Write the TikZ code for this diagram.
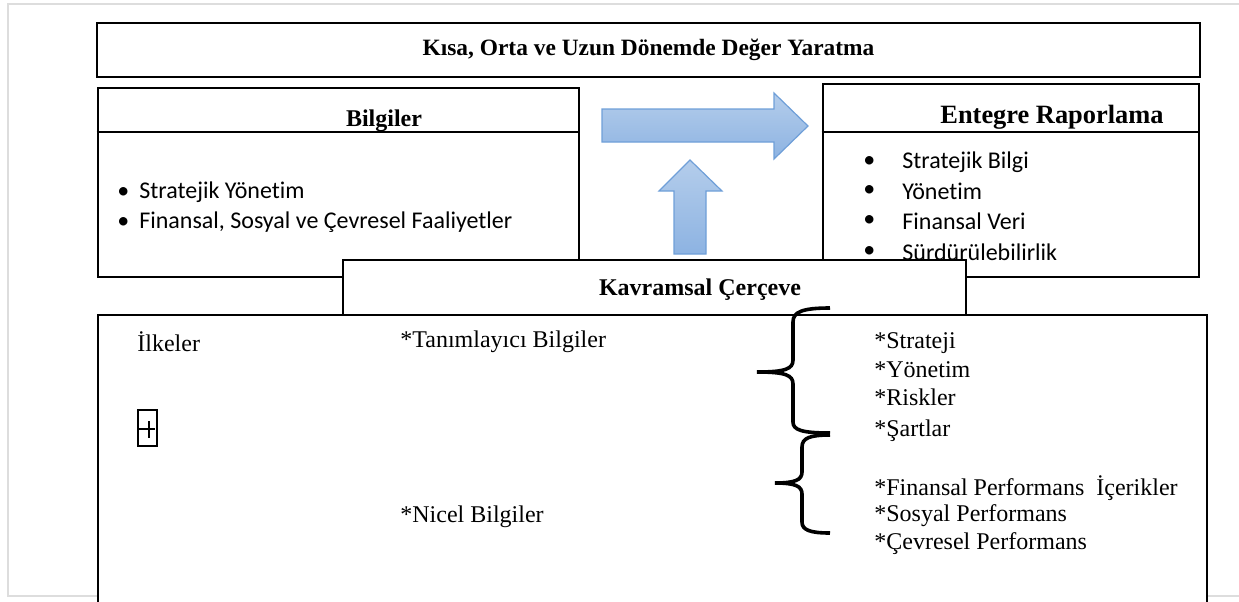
\documentclass[tikz,border=0pt]{standalone}
\usepackage{fontspec}
\setmainfont{Liberation Serif}
\newfontfamily\calibri[Ligatures=NoCommon]{Carlito}
\usetikzlibrary{positioning}

\definecolor{okacik}{HTML}{B4CDEB}
\definecolor{okkoyu}{HTML}{8DB3E2}
\definecolor{okkenar}{HTML}{6F9FD8}
\definecolor{cerceve}{HTML}{DDDDDD}

\tikzset{
  kutu/.style={draw, line width=1.3pt, fill=white, inner sep=0pt},
  baslik/.style={font=\bfseries\fontsize{11.7}{14}\selectfont, inner sep=0pt},
  yazi/.style={font=\fontsize{12}{14}\selectfont, anchor=west, inner sep=0pt},
  madde/.style={font=\calibri\fontsize{12}{14}\selectfont, anchor=west, inner sep=0pt},
  ok/.style={top color=okacik, bottom color=okkoyu, draw=okkenar, line width=0.6pt},
  parantez/.style={line width=1.8pt},
}

\begin{document}
\begin{tikzpicture}[x=0.5pt, y=-0.5pt]
  % 1 birim = 1 piksel (y asagi dogru)
  \useasboundingbox (0,0) rectangle (1239,601);
  \draw[cerceve, line width=0.6pt] (1239,4) -- (8,4) -- (8,596) -- (1239,596);

  % ust kutu
  \node[kutu, baslik, minimum width=551.5pt, minimum height=27pt] (deger) at (648.5,50)
    {Kısa, Orta ve Uzun Dönemde Değer Yaratma};

  % sol ve sag kutular (baslik cizgisi y=132)
  \coordinate (bcizgi) at (0,132);
  \node[kutu, minimum width=240.5pt, minimum height=94.5pt] (bilgiler) at (338.5,182.5) {};
  \draw[line width=1.3pt] (bilgiler.west |- bcizgi) -- (bilgiler.east |- bcizgi);
  \node[baslik, font=\bfseries\fontsize{12}{14}\selectfont] (bilgilerbaslik) at (384,121) {Bilgiler};
  \node[madde] (bm1) at (117,192) {\textbullet\hspace{5pt}Stratejik Yönetim};
  \node[madde] (bm2) at (117,222) {\textbullet\hspace{5pt}Finansal, Sosyal ve Çevresel Faaliyetler};

  \node[kutu, minimum width=188pt, minimum height=96.5pt] (entegre) at (1011,180.5) {};
  \draw[line width=1.3pt] (entegre.west |- bcizgi) -- (entegre.east |- bcizgi);
  \node[baslik, font=\bfseries\fontsize{13.2}{15}\selectfont] (entegrebaslik) at (1052,117) {Entegre Raporlama};
  \node[madde] (em1) at (863,162) {\textbullet};
  \node[madde] (em1y) at (902,162) {Stratejik Bilgi};
  \node[madde] (em2) at (863,191) {\textbullet};
  \node[madde] (em2y) at (902,191) {Yönetim};
  \node[madde] (em3) at (863,221) {\textbullet};
  \node[madde] (em3y) at (902,221) {Finansal Veri};
  \node[madde] (em4) at (863,252) {\textbullet};
  \node[madde] (em4y) at (902,252) {Sürdürülebilirlik};

  % oklar
  \path[ok] (602,109) -- (774,109) -- (774,93) -- (808,126) -- (774,159) -- (774,142) -- (602,142) -- cycle;
  \path[ok] (674,254) -- (674,191) -- (659,191) -- (690,160) -- (722,191) -- (706,191) -- (706,254) -- cycle;

  % alt kutu ve kavramsal cerceve
  \node[kutu, minimum width=554.5pt, minimum height=162.5pt] (alt) at (652.5,477.5) {};
  \node[kutu, minimum width=311.5pt, minimum height=27.5pt] (kavramsal) at (654.5,287.5) {};
  \node[baslik, font=\bfseries\fontsize{12}{14}\selectfont] (kavramsalbaslik) at (700,290) {Kavramsal Çerçeve};

  % parantezler
  \draw[parantez] (830,308) .. controls (802,308) and (793,312) .. (793,322) -- (793,360)
    .. controls (793,369) and (785,372) .. (757,372) .. controls (785,372) and (793,375) .. (793,384)
    -- (793,422) .. controls (793,430) and (802,433) .. (830,433);
  \draw[parantez] (830,435) .. controls (810,435) and (802,438) .. (802,447) -- (802,472)
    .. controls (802,480) and (795,483) .. (775,483) .. controls (795,483) and (802,486) .. (802,494)
    -- (802,522) .. controls (802,530) and (810,533) .. (830,533);

  % alt kutu yazilari
  \node[yazi] (ilkeler) at (137,342) {İlkeler};
  \node[draw, line width=1pt, minimum width=9.5pt, minimum height=18pt, inner sep=0pt] (tutamac) at (147.5,428) {};
  \draw[line width=0.7pt] (139,429) -- (155,429);
  \draw[line width=0.7pt] (149,421) -- (149,438);
  \node[yazi] (tanim) at (400,342) {*Tanımlayıcı Bilgiler};
  \node[yazi] (nicel) at (400,517) {*Nicel Bilgiler};
  \node[yazi] (s1) at (874,343) {*Strateji};
  \node[yazi] (s2) at (874,370) {*Yönetim};
  \node[yazi] (s3) at (874,397) {*Riskler};
  \node[yazi] (s4) at (874,431) {*Şartlar};
  \node[yazi] (s5) at (874,488) {*Finansal Performans\ \ İçerikler};
  \node[yazi] (s6) at (874,516) {*Sosyal Performans};
  \node[yazi] (s7) at (874,544) {*Çevresel Performans};
\end{tikzpicture}
\end{document}
